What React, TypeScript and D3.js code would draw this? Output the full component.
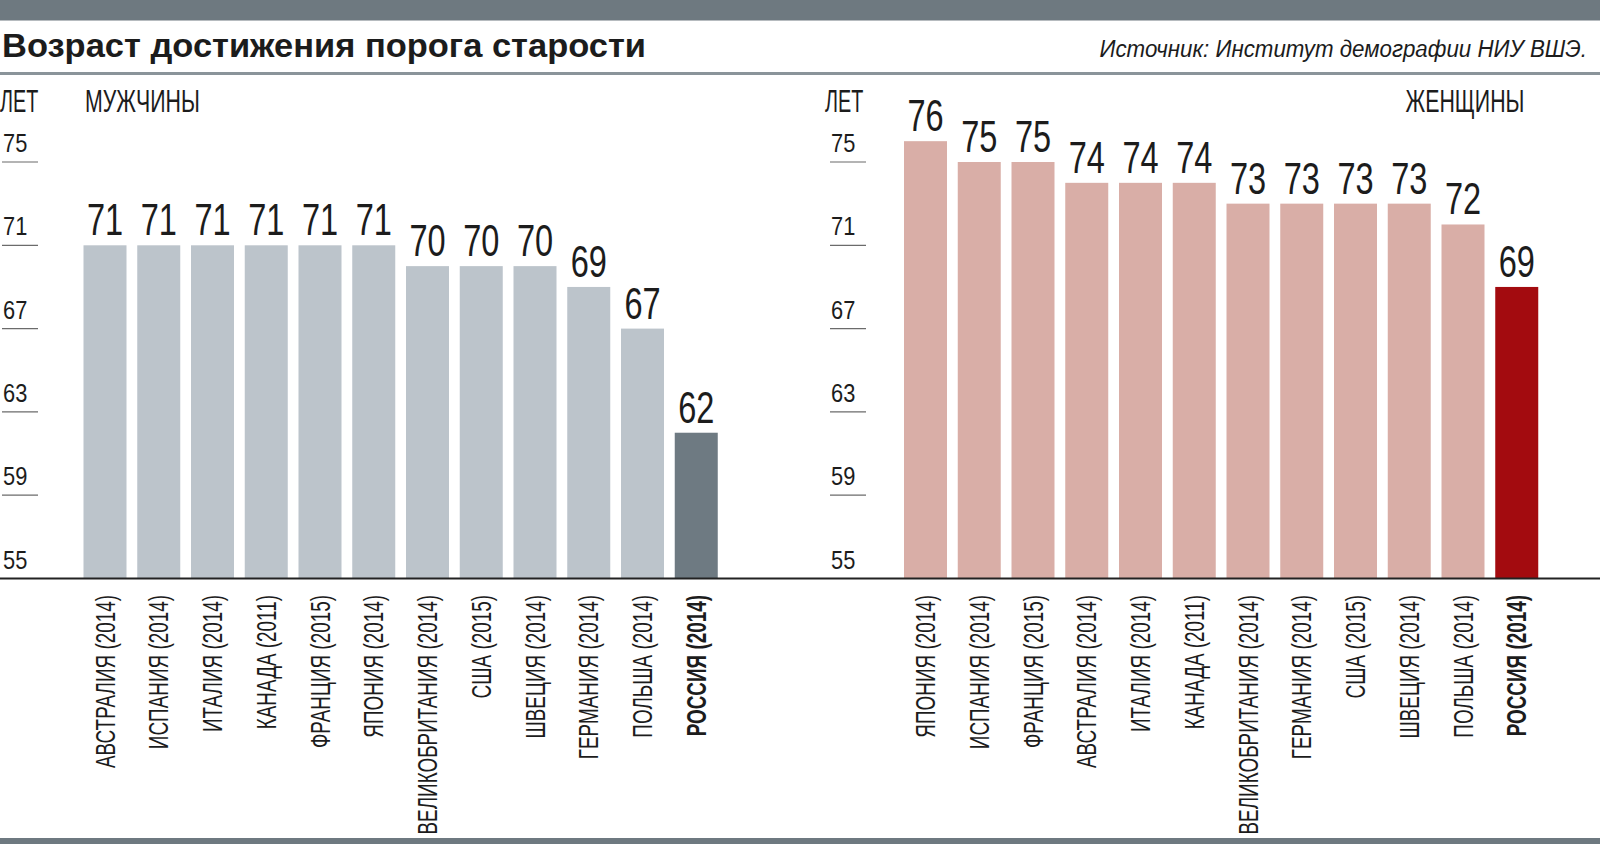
import { useEffect, useRef } from 'react'
import * as d3 from 'd3'

const menCountries = [
  'АВСТРАЛИЯ (2014)', 'ИСПАНИЯ (2014)', 'ИТАЛИЯ (2014)', 'КАНАДА (2011)',
  'ФРАНЦИЯ (2015)', 'ЯПОНИЯ (2014)', 'ВЕЛИКОБРИТАНИЯ (2014)', 'США (2015)',
  'ШВЕЦИЯ (2014)', 'ГЕРМАНИЯ (2014)', 'ПОЛЬША (2014)', 'РОССИЯ (2014)'
]
const menValues = [71, 71, 71, 71, 71, 71, 70, 70, 70, 69, 67, 62]

const womenCountries = [
  'ЯПОНИЯ (2014)', 'ИСПАНИЯ (2014)', 'ФРАНЦИЯ (2015)', 'АВСТРАЛИЯ (2014)',
  'ИТАЛИЯ (2014)', 'КАНАДА (2011)', 'ВЕЛИКОБРИТАНИЯ (2014)', 'ГЕРМАНИЯ (2014)',
  'США (2015)', 'ШВЕЦИЯ (2014)', 'ПОЛЬША (2014)', 'РОССИЯ (2014)'
]
const womenValues = [76, 75, 75, 74, 74, 74, 73, 73, 73, 73, 72, 69]

const yTicks = [55, 59, 63, 67, 71, 75]
const highlight = 'РОССИЯ (2014)'

const W = 1600
const H = 844
const FONT = '"Liberation Sans", Arial, sans-serif'
const INK = '#1c1c1c'

interface Panel {
  countries: string[]
  values: number[]
  range: [number, number]
  tickX: [number, number]
  base: string
  accent: string
}

const App = () => {
  const svgRef = useRef<SVGSVGElement>(null)

  useEffect(() => {
    if (!svgRef.current) return
    const svg = d3.select(svgRef.current)
    svg.selectAll('*').remove()

    const y = d3.scaleLinear().domain([55, 75]).range([578.5, 162])

    // header
    svg.append('rect').attr('x', 0).attr('y', 0).attr('width', W).attr('height', 20.5).attr('fill', '#6e7980')
    svg.append('text')
      .attr('x', 2).attr('y', 57)
      .attr('font-family', FONT).attr('font-weight', 'bold').attr('font-size', 33)
      .attr('textLength', 644).attr('lengthAdjust', 'spacingAndGlyphs')
      .attr('fill', INK)
      .text('Возраст достижения порога старости')
    svg.append('text')
      .attr('x', 1587).attr('y', 57)
      .attr('font-family', FONT).attr('font-style', 'italic').attr('font-size', 24)
      .attr('text-anchor', 'end')
      .attr('transform', 'translate(1587,0) scale(0.93,1) translate(-1587,0)')
      .attr('fill', INK)
      .text('Источник: Институт демографии НИУ ВШЭ.')
    svg.append('rect').attr('x', 0).attr('y', 72).attr('width', W).attr('height', 3).attr('fill', '#8a949a')

    // footer band
    svg.append('rect').attr('x', 0).attr('y', 838).attr('width', W).attr('height', 6).attr('fill', '#6e7980')

    const condensed = (g: d3.Selection<SVGGElement, unknown, null, undefined>, x: number, yy: number, txt: string, size: number, sx: number, anchor = 'start') =>
      g.append('text')
        .attr('transform', `translate(${x},${yy}) scale(${sx},1)`)
        .attr('font-family', FONT).attr('font-size', size)
        .attr('text-anchor', anchor).attr('fill', INK)
        .text(txt)

    const drawPanel = (p: Panel) => {
      const g = svg.append('g')
      const x = d3.scaleBand<number>()
        .domain(d3.range(p.countries.length))
        .range(p.range)
        .paddingInner(0.2)
        .paddingOuter(0)

      // y ticks
      yTicks.forEach(t => {
        if (t !== 55) {
          g.append('line')
            .attr('x1', p.tickX[0]).attr('x2', p.tickX[1])
            .attr('y1', y(t)).attr('y2', y(t))
            .attr('stroke', '#6b6b6b').attr('stroke-width', 1.2)
        }
        condensed(g, p.tickX[0] + 1, y(t) - 10, String(t), 26, 0.84)
      })

      // bars
      g.selectAll('rect.bar')
        .data(p.values)
        .join('rect')
        .attr('class', 'bar')
        .attr('x', (_, i) => x(i) || 0)
        .attr('y', d => y(d))
        .attr('width', x.bandwidth())
        .attr('height', d => y(55) - y(d))
        .attr('fill', (_, i) => p.countries[i] === highlight ? p.accent : p.base)

      // value labels
      p.values.forEach((v, i) => {
        const cx = (x(i) || 0) + x.bandwidth() / 2
        condensed(g, cx, y(v) - 10, String(v), 44, 0.74, 'middle')
      })

      // category labels
      p.countries.forEach((c, i) => {
        const cx = (x(i) || 0) + x.bandwidth() / 2
        g.append('text')
          .attr('transform', `translate(${cx + 9.5},595) rotate(-90) scale(0.7,1)`)
          .attr('font-family', FONT).attr('font-size', 27)
          .attr('font-weight', c === highlight ? 'bold' : 'normal')
          .attr('text-anchor', 'end').attr('fill', INK)
          .text(c)
      })
    }

    drawPanel({
      countries: menCountries, values: menValues,
      range: [83.5, 717.75], tickX: [2, 38],
      base: '#bcc4cb', accent: '#6e7a82'
    })
    drawPanel({
      countries: womenCountries, values: womenValues,
      range: [904, 1538.25], tickX: [830, 866],
      base: '#d9aea7', accent: '#a30b0f'
    })

    // panel headers
    const hg = svg.append('g')
    condensed(hg, 0, 112, 'ЛЕТ', 30.5, 0.65)
    condensed(hg, 85, 112, 'МУЖЧИНЫ', 30.5, 0.7)
    condensed(hg, 825, 112, 'ЛЕТ', 30.5, 0.65)
    condensed(hg, 1524.5, 112, 'ЖЕНЩИНЫ', 30.5, 0.7, 'end')

    // baseline
    svg.append('line')
      .attr('x1', 0).attr('x2', W)
      .attr('y1', y(55)).attr('y2', y(55))
      .attr('stroke', '#222').attr('stroke-width', 2.2)
  }, [])

  return (
    <svg
      ref={svgRef}
      width={W}
      height={H}
      style={{ position: 'absolute', left: 0, top: 0, background: '#fff' }}
    />
  )
}

export default App
